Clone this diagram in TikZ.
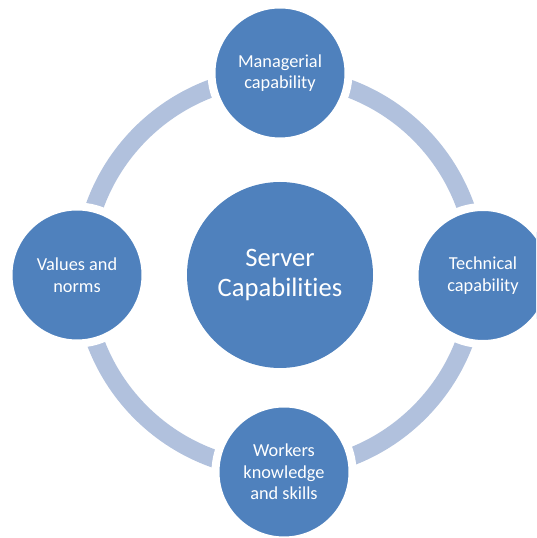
\documentclass[tikz,border=0pt]{standalone}
\usepackage{fontspec}
\setmainfont{Carlito}[RawFeature={-liga}]
\definecolor{nodeblue}{HTML}{4F81BD}
\definecolor{ringblue}{HTML}{B1C1DD}
\begin{document}
\begin{tikzpicture}[x=1pt,y=1pt,
  outer/.style={circle,fill=nodeblue,draw=white,line width=8pt,minimum size=137pt,inner sep=0pt,
    text=white,align=center,font=\fontsize{18.3}{21.5}\selectfont},
  hub/.style={circle,fill=nodeblue,draw=none,minimum size=186pt,inner sep=0pt,
    text=white,align=center,font=\fontsize{26.6}{30}\selectfont}]
\useasboundingbox (0,0) rectangle (536,538);
\clip (0,0) rectangle (536,538);
\coordinate (rc) at (280,265);
\draw[ringblue,line width=18pt] (rc) circle[radius=197];
\node[hub] (srv) at (280,263) {Server\\Capabilities};
\node[outer] (mgr) at (280,465) {Managerial\\capability};
\node[outer] (tec) at (483,262.5) {Technical\\capability};
\node[outer] (wrk) at (284,66) {Workers\\knowledge\\and skills};
\node[outer] (val) at (77,263) {Values and\\norms};
\end{tikzpicture}
\end{document}
